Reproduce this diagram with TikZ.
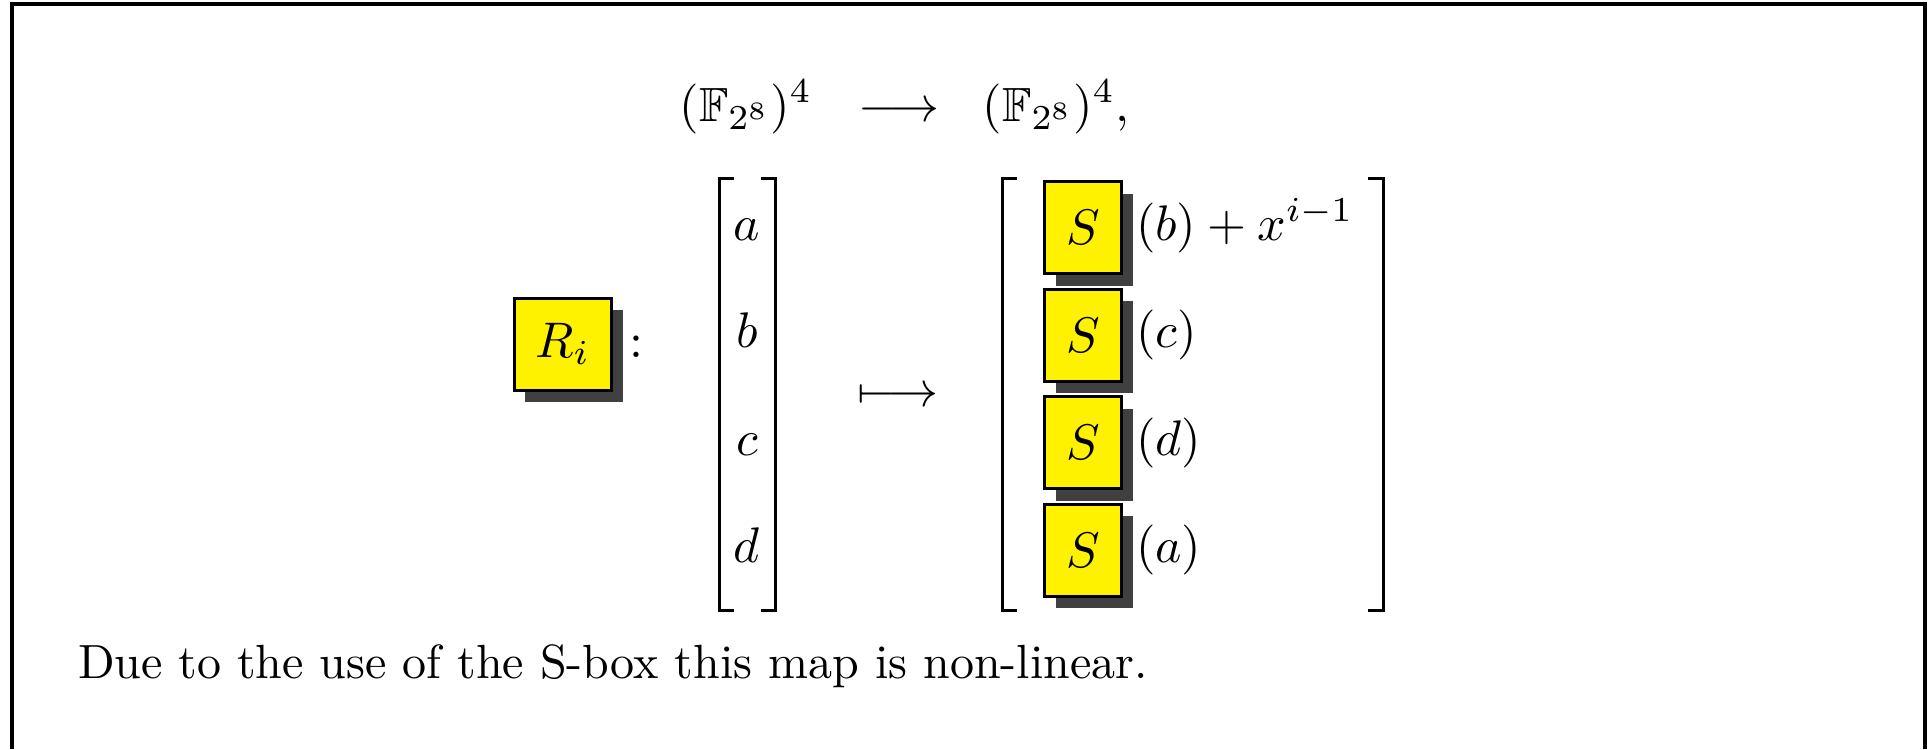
\documentclass[tikz,border=0pt]{standalone}
\usepackage{amsmath,amssymb}
\usepackage{xcolor}
\usepackage{tikz}
\usetikzlibrary{shadows,positioning}

\definecolor{boxyellow}{RGB}{255,242,0}

\begin{document}
\begin{tikzpicture}[
  x=0.2pt, y=-0.2pt,
  font=\fontsize{9.6}{11.5}\selectfont,
  keybox/.style={draw, fill=boxyellow, line width=0.6pt, inner sep=0pt,
    drop shadow={shadow xshift=2.2pt, shadow yshift=-2.4pt, fill=black!75, opacity=1}},
  rbox/.style={keybox, minimum width=19.5pt, minimum height=18.4pt},
  sbox/.style={keybox, minimum width=15.4pt, minimum height=18.4pt},
  entry/.style={anchor=base, inner sep=0pt},
  label/.style={anchor=base west, inner sep=0pt},
  brack/.style={line width=0.6pt},
  frame/.style={line width=0.8pt}
]
\useasboundingbox (0,0) rectangle (1932,749);
\draw[frame] (12,749) -- (12,4) -- (1925,4) -- (1925,749);

% domain and codomain
\node[entry] (dom) at (746,121) {$(\mathbb{F}_{2^8})^4$};
\node[entry] (to) at (899,121) {$\longrightarrow$};
\node[entry] (cod) at (1056,121) {$(\mathbb{F}_{2^8})^4,$};

% round function
\node[rbox] (Ri) at (563,344) {$R_i$};
\node[entry] (colon) at (636,357) {$:$};

% input vector
\foreach \v [count=\k from 0] in {a,b,c,d}
  \node[entry] (in\v) at (747,240+107.5*\k) {$\v$};
\draw[brack] (734,178) -- (719,178) -- (719,610) -- (734,610);
\draw[brack] (761,178) -- (775,178) -- (775,610) -- (761,610);

\node[entry] (maps) at (898,406) {$\longmapsto$};

% output vector
\foreach \v [count=\k from 0] in {b,c,d,a}
  \node[sbox] (S\k) at (1083,227.5+107.5*\k) {$S$};
\node[label] (o0) at (1135,240) {$(b)+x^{i-1}$};
\node[label] (o1) at (1135,347.5) {$(c)$};
\node[label] (o2) at (1135,455) {$(d)$};
\node[label] (o3) at (1135,562.5) {$(a)$};
\draw[brack] (1017,178) -- (1002,178) -- (1002,610) -- (1017,610);
\draw[brack] (1368,178) -- (1383,178) -- (1383,610) -- (1368,610);

\node[label] (note) at (77,678) {Due to the use of the S-box this map is non-linear.};
\end{tikzpicture}
\end{document}
